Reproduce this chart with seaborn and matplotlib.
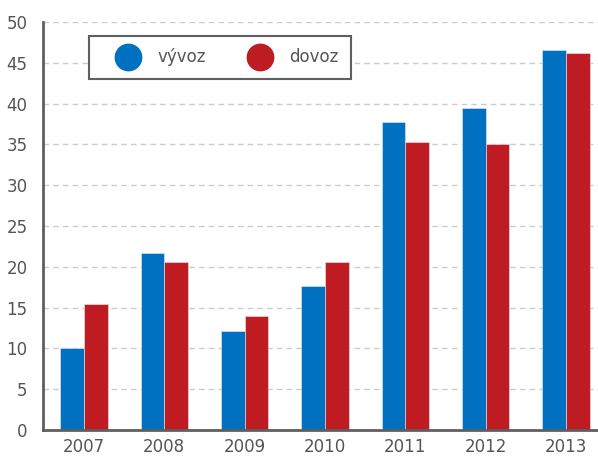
import pandas as pd
import matplotlib
matplotlib.use("Agg")
import matplotlib.pyplot as plt
from matplotlib.lines import Line2D
import seaborn as sns

# ==========================
# Data
# ==========================

years = ["2007", "2008", "2009", "2010", "2011", "2012", "2013"]
vyvoz = [10.0, 21.7, 12.1, 17.6, 37.7, 39.4, 46.6]
dovoz = [15.5, 20.6, 14.0, 20.6, 35.3, 35.0, 46.2]
series = ["vývoz", "dovoz"]
colors = ["#0070C0", "#BE1B22"]

df = pd.DataFrame({
    "rok": years * 2,
    "hodnota": vyvoz + dovoz,
    "tok": [series[0]] * len(years) + [series[1]] * len(years),
})

# ==========================
# Style
# ==========================

sns.set_style("white")
plt.rcParams["font.family"] = ["DejaVu Sans"]

text_color = "#555555"
spine_color = "#5f5f5f"

fig = plt.figure(figsize=(5.98, 4.57), dpi=100)
ax = fig.add_axes([43 / 598, 27 / 457, 555 / 598, 408 / 457])

sns.barplot(
    data=df,
    x="rok",
    y="hodnota",
    hue="tok",
    palette=colors,
    saturation=1,
    width=0.59,
    edgecolor="#e6eef6",
    linewidth=0.4,
    ax=ax,
    legend=False,
)

ax.set_ylim(0, 50)
ax.set_xlim(-0.51, 6.40)
ax.set_yticks(range(0, 51, 5))
ax.set_xlabel("")
ax.set_ylabel("")

ax.yaxis.grid(True, linestyle=(0, (4, 3)), color="#cccccc", linewidth=1)
ax.set_axisbelow(True)

for side in ["top", "right"]:
    ax.spines[side].set_visible(False)
for side in ["left", "bottom"]:
    ax.spines[side].set_color(spine_color)
    ax.spines[side].set_linewidth(2)

ax.tick_params(axis="y", length=0, pad=11, labelsize=12, labelcolor=text_color)
ax.tick_params(axis="x", length=0, pad=6, labelsize=12, labelcolor=text_color)

# ==========================
# Legend
# ==========================

handles = [
    Line2D([], [], linestyle="none", marker="o", markersize=19,
           markerfacecolor=c, markeredgecolor=c)
    for c in colors
]

leg = ax.legend(
    handles,
    series,
    loc="upper left",
    bbox_to_anchor=(0.083, 0.966),
    ncol=2,
    frameon=True,
    fancybox=False,
    framealpha=1,
    fontsize=12,
    handlelength=3.2,
    handletextpad=0.15,
    columnspacing=1.65,
    borderpad=0.75,
    borderaxespad=0,
    labelcolor=text_color,
)
leg.get_frame().set_edgecolor(spine_color)
leg.get_frame().set_linewidth(1.5)

fig.savefig("out.png", dpi=100)
